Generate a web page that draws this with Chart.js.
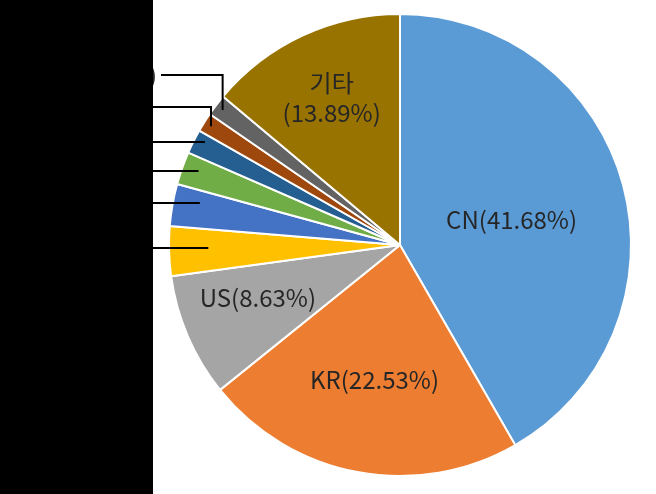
<!DOCTYPE html>
<html>
<head>
<meta charset="utf-8">
<script src="https://cdn.jsdelivr.net/npm/chart.js@4"></script>
<style>
  body { margin: 0; background: #fff; }
  canvas { display: block; }
</style>
</head>
<body>
<canvas id="pie" width="656" height="494"></canvas>
<script>
// categories + shares (%), clockwise from 12 o'clock
var categories = ['CN', 'KR', 'US', '', '', '', '', '', '', '기타'];
var shares = [41.68, 22.53, 8.63, 3.47, 2.94, 2.30, 1.70, 1.35, 1.51, 13.89];
var colors = ['#5B9BD5', '#ED7D31', '#A5A5A5', '#FFC000', '#4472C4',
              '#70AD47', '#255E91', '#9E480E', '#636363', '#997300'];

// label placement (fraction of radius along the slice middle, plus small y nudge)
var labelR = [0.5, 0.6, 0.67, 0, 0, 0, 0, 0, 0, 0.7];
var labelDy = [5, -1, -8, 0, 0, 0, 0, 0, 0, -1];
// small slices: leader end (fraction of radius) and label row
var leaderR = [0, 0, 0, 0.83, 0.88, 0.925, 0.945, 0.966, 0.965, 0];
var leaderY = [0, 0, 0, 248, 203, 171, 142, 107, 75, 0];

const FONT = '24px "Noto Sans CJK KR", "Noto Sans", sans-serif';

const pieLabels = {
    id: 'pieLabels',
    afterDatasetsDraw(chart) {
        const ctx = chart.ctx;
        const arcs = chart.getDatasetMeta(0).data;
        ctx.save();
        ctx.font = FONT;
        ctx.fillStyle = '#262626';
        ctx.textBaseline = 'middle';
        arcs.forEach((arc, i) => {
            const p = arc.getProps(['x', 'y', 'startAngle', 'endAngle', 'outerRadius'], true);
            const mid = (p.startAngle + p.endAngle) / 2;
            const txt = categories[i] + '(' + shares[i].toFixed(2) + '%)';
            if (labelR[i] > 0) {
                const lx = p.x + Math.cos(mid) * p.outerRadius * labelR[i];
                const ly = p.y + Math.sin(mid) * p.outerRadius * labelR[i] + labelDy[i];
                ctx.textAlign = 'center';
                if (categories[i] == '기타') {
                    ctx.fillText(categories[i], lx, ly - 15);
                    ctx.fillText('(' + shares[i].toFixed(2) + '%)', lx, ly + 15);
                } else {
                    ctx.fillText(txt, lx, ly);
                }
            } else {
                // leader line + label (label sits left, under the black box)
                const ex = p.x + Math.cos(mid) * p.outerRadius * leaderR[i];
                const ey = p.y + Math.sin(mid) * p.outerRadius * leaderR[i];
                const y = leaderY[i];
                const elbow = Math.abs(ey - y) > 8;
                const startX = (i == 8) ? 161 : 148;
                ctx.textAlign = 'right';
                ctx.fillText(txt, (i == 8) ? 157 : 152, y);
                ctx.beginPath();
                ctx.strokeStyle = '#000';
                ctx.lineWidth = 2;
                ctx.moveTo(startX, y);
                ctx.lineTo(ex, y);
                if (elbow) ctx.lineTo(ex, ey);
                ctx.stroke();
            }
        });
        ctx.restore();
    },
    afterDraw(chart) {
        // black box over the left side
        const ctx = chart.ctx;
        ctx.save();
        ctx.fillStyle = '#000';
        ctx.fillRect(0, 0, 153, chart.height);
        ctx.restore();
    }
};

new Chart(document.getElementById('pie'), {
    type: 'pie',
    data: {
        labels: categories,
        datasets: [{
            data: shares,
            backgroundColor: colors,
            borderColor: '#fff',
            borderWidth: 2
        }]
    },
    options: {
        responsive: false,
        animation: false,
        devicePixelRatio: 1,
        layout: { padding: { left: 168, right: 24, top: 13, bottom: 17 } },
        plugins: {
            legend: { display: false },
            tooltip: { enabled: false }
        }
    },
    plugins: [pieLabels]
});
</script>
</body>
</html>
